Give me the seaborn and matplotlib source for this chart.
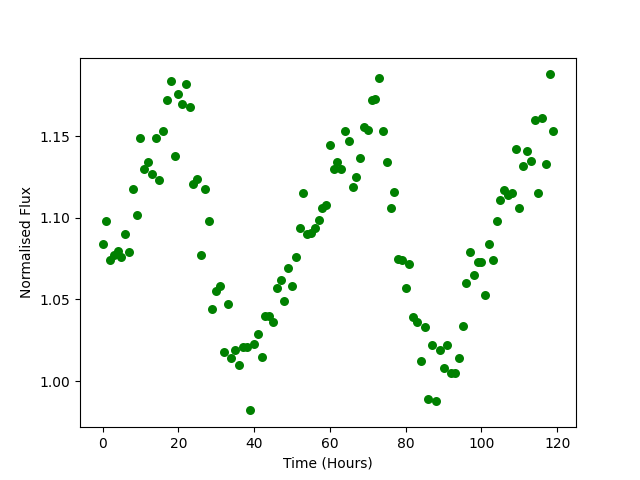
import numpy as np
import pandas as pd
import matplotlib
matplotlib.use("Agg")
import matplotlib.pyplot as plt
import seaborn as sns

# hourly flux readings
hours = np.arange(0, 120)
flux = [
    1.084, 1.098, 1.074, 1.077, 1.080, 1.076, 1.090, 1.079, 1.118, 1.102,
    1.149, 1.130, 1.134, 1.127, 1.149, 1.123, 1.153, 1.172, 1.184, 1.138,
    1.176, 1.170, 1.182, 1.168, 1.121, 1.124, 1.077, 1.118, 1.098, 1.044,
    1.055, 1.058, 1.018, 1.047, 1.014, 1.019, 1.010, 1.021, 1.021, 0.982,
    1.023, 1.029, 1.015, 1.040, 1.040, 1.036, 1.057, 1.062, 1.049, 1.069,
    1.058, 1.076, 1.094, 1.115, 1.090, 1.091, 1.094, 1.099, 1.106, 1.108,
    1.145, 1.130, 1.134, 1.130, 1.153, 1.147, 1.119, 1.125, 1.137, 1.156,
    1.154, 1.172, 1.173, 1.186, 1.153, 1.134, 1.106, 1.116, 1.075, 1.074,
    1.057, 1.072, 1.039, 1.036, 1.012, 1.033, 0.989, 1.022, 0.988, 1.019,
    1.008, 1.022, 1.005, 1.005, 1.014, 1.034, 1.060, 1.079, 1.065, 1.073,
    1.073, 1.053, 1.084, 1.074, 1.098, 1.111, 1.117, 1.114, 1.115, 1.142,
    1.106, 1.132, 1.141, 1.135, 1.160, 1.115, 1.161, 1.133, 1.188, 1.153,
]

df = pd.DataFrame({"Time (Hours)": hours, "Normalised Flux": flux})

fig, ax = plt.subplots(figsize=(6.4, 4.8), dpi=100)
sns.scatterplot(data=df, x="Time (Hours)", y="Normalised Flux",
                color="green", s=42, linewidth=0, ax=ax)
ax.set_xticks([0, 20, 40, 60, 80, 100, 120])
ax.set_yticks([1.00, 1.05, 1.10, 1.15])
ax.set_xlim(-5.95, 124.95)
plt.savefig("out.png")
